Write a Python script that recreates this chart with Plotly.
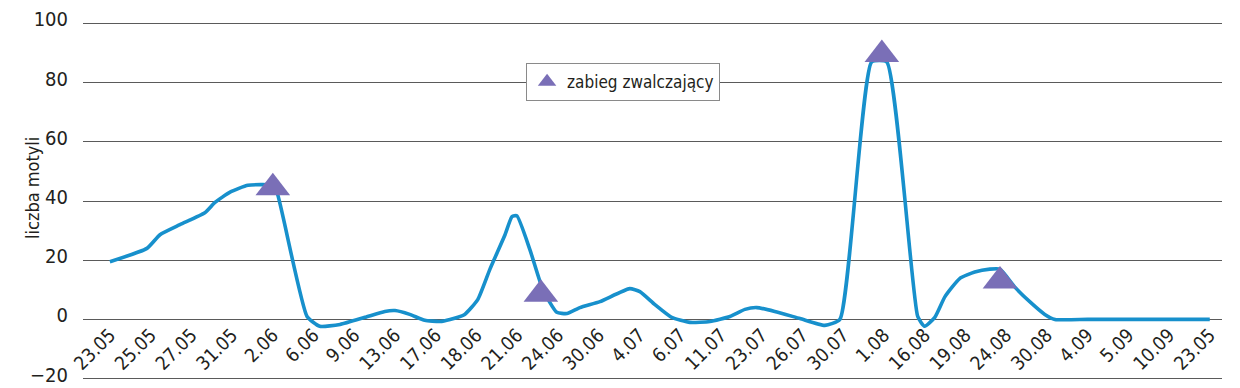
import plotly.graph_objects as go

# category labels along the x axis (equally spaced)
tick_labels = ["23.05", "25.05", "27.05", "31.05", "2.06", "6.06", "9.06", "13.06",
               "17.06", "18.06", "21.06", "24.06", "30.06", "4.07", "6.07", "11.07",
               "23.07", "26.07", "30.07", "1.08", "16.08", "19.08", "24.08", "30.08",
               "4.09", "5.09", "10.09", "23.05"]
tick_pos = list(range(len(tick_labels)))

# traced moth-count curve (position in category units, value)
curve_x = [0.00, 0.91, 1.23, 1.72, 2.33, 2.58, 2.95, 3.39, 3.98, 4.10, 4.84, 5.15,
           5.65, 6.26, 6.75, 7.00, 7.36, 7.73, 8.10, 8.35, 8.71, 9.03, 9.33, 9.70,
           9.87, 9.99, 10.31, 10.63, 10.97, 11.22, 11.54, 12.03, 12.76, 13.01, 13.38,
           13.79, 14.24, 14.73, 15.22, 15.59, 15.88, 16.32, 16.94, 17.55, 17.92,
           18.70, 19.07, 19.83, 20.00, 20.25, 20.50, 20.86, 21.23, 21.60, 21.85,
           22.21, 22.58, 22.95, 23.20, 24.00, 25.00, 26.00, 27.00]
curve_y = [19.5, 24, 28.6, 32, 36, 39.5, 43, 45.3, 45.3, 43, 1, -2.3,
           -1.7, 0.7, 2.7, 3, 1.7, -0.3, -0.7, 0, 1.7, 6.7, 17, 28.6,
           34.7, 35, 23.6, 10, 2.4, 2, 4, 6, 10.4, 9.4, 5,
           0.7, -1, -0.7, 1, 3.4, 4, 2.7, 0.3, -2, 0,
           87, 87, 1, -2.3, 0.7, 7.7, 13.8, 16, 17, 17,
           11, 6, 1.7, 0, 0, 0, 0, 0]

# control treatments (zabieg zwalczający)
treat_x = [4.0, 10.58, 18.95, 21.85]
treat_y = [44.5, 8.5, 89.5, 13]

Y_MIN, Y_MAX = -20.8, 100.8

FONT = "DejaVu Sans Condensed, Liberation Sans Narrow, sans-serif"
TXT = "#231f20"

fig = go.Figure()
fig.add_trace(go.Scatter(
    x=curve_x, y=curve_y, mode="lines",
    line=dict(color="#1790cc", width=3.6, shape="spline", smoothing=0.5),
    showlegend=False, hoverinfo="skip"))
fig.add_trace(go.Scatter(
    x=treat_x, y=treat_y, mode="markers", name="zabieg zwalczający",
    marker=dict(symbol="triangle-up", size=30, color="#7a6fb7", line=dict(width=0))))

fig.add_annotation(text="liczba motyli", textangle=-90, xref="paper", yref="paper",
                   x=-0.0448, y=0.536, xanchor="center", yanchor="middle",
                   showarrow=False, font=dict(family=FONT, size=18, color=TXT))

# page body has an 8px default margin, so the figure is offset 8px in the window
fig.update_layout(
    width=1232, height=388,
    margin=dict(l=75, r=18, t=13, b=15),
    paper_bgcolor="white", plot_bgcolor="white",
    font=dict(family=FONT, color=TXT, size=19),
    legend=dict(x=0.389, y=0.883, xanchor="left", yanchor="top",
                bgcolor="white", bordercolor="#8a8a8a", borderwidth=1,
                font=dict(family=FONT, size=17, color=TXT),
                itemsizing="trace"),
    xaxis=dict(range=[-0.66, 27.3], tickmode="array", tickvals=tick_pos,
               ticktext=tick_labels, tickangle=-45, showgrid=False,
               zeroline=False, showline=False, ticks="", automargin=False,
               anchor="free", position=(0 - Y_MIN) / (Y_MAX - Y_MIN),
               ticklabeloverflow="allow",
               tickfont=dict(family=FONT, size=19, color=TXT)),
    yaxis=dict(range=[Y_MIN, Y_MAX], tickmode="array",
               tickvals=[-20, 0, 20, 40, 60, 80, 100],
               ticktext=["\u221220", "0", "20", "40", "60", "80", "100"],
               showgrid=True, gridcolor="#5a5a5a", gridwidth=1,
               zeroline=False, showline=False, ticks="", automargin=False,
               ticklabelstandoff=14, ticklabelshift=-4, ticklabeloverflow="allow",
               tickfont=dict(family=FONT, size=20, color=TXT)),
)

fig.write_html("out.html")
